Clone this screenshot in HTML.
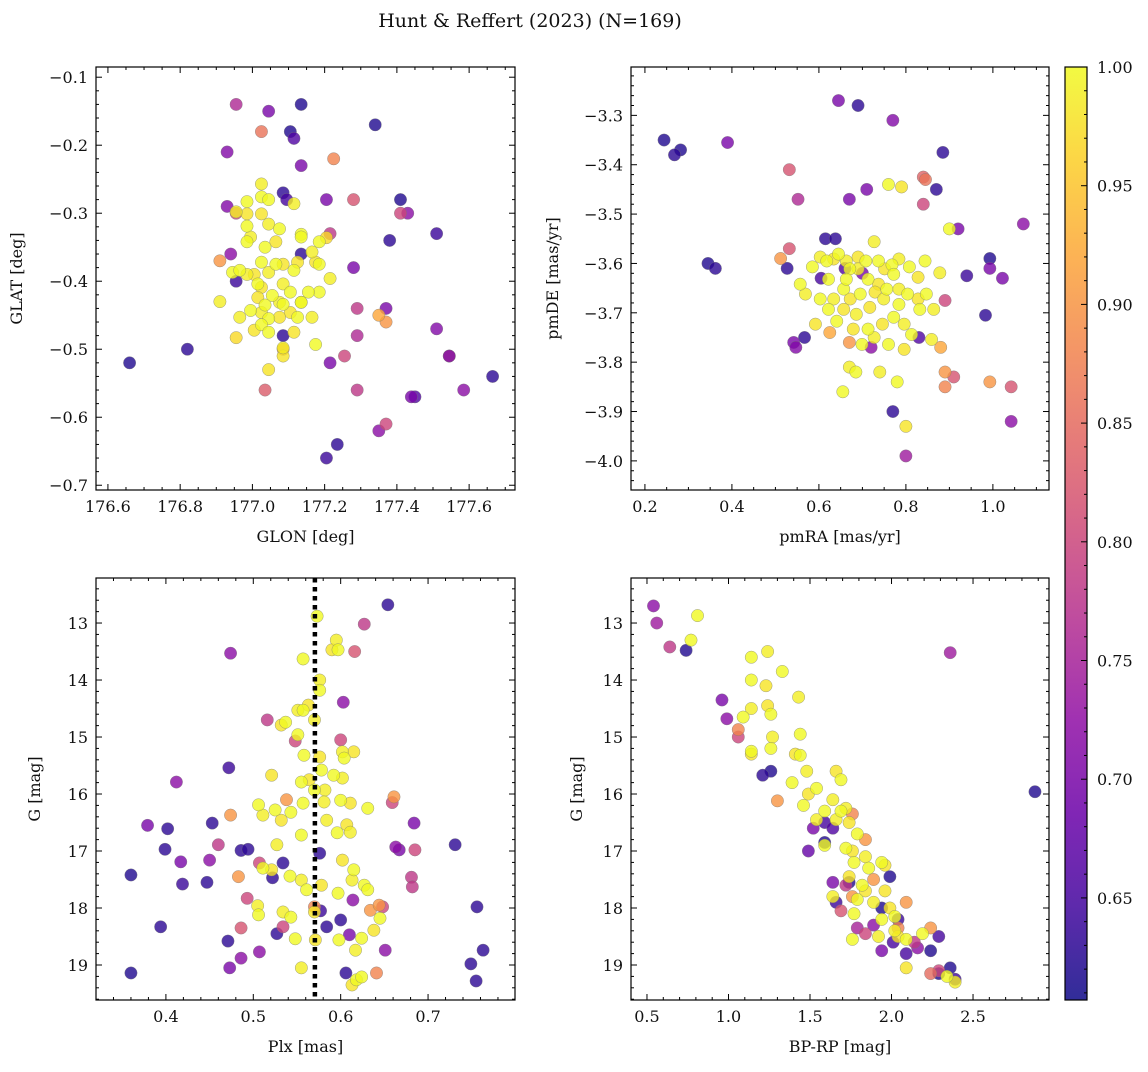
<!DOCTYPE html>
<html><head><meta charset="utf-8"><style>
html,body{margin:0;padding:0;background:#fff}
svg text{font-family:"DejaVu Serif","Liberation Serif",serif;fill:#111}
</style></head><body>
<svg id="fig" width="1148" height="1067" viewBox="0 0 1148 1067" xmlns="http://www.w3.org/2000/svg">
<text x="530" y="27" font-size="19" text-anchor="middle">Hunt &amp; Reffert (2023) (N=169)</text>
</svg>
<script>
// ---- data: [x, y, membership probability] ----
const skyPos = [
[176.66,-0.52,0.62],[176.82,-0.50,0.63],[176.955,-0.14,0.76],[176.93,-0.21,0.71],[176.93,-0.29,0.71],[177.025,-0.18,0.86],[177.045,-0.15,0.70],[177.135,-0.14,0.62],[177.105,-0.18,0.62],[177.115,-0.19,0.66],[177.135,-0.23,0.70],[177.225,-0.22,0.88],[177.34,-0.17,0.62],[177.41,-0.28,0.62],[177.41,-0.30,0.80],[177.43,-0.30,0.72],[177.38,-0.34,0.63],[177.51,-0.33,0.64],[177.51,-0.47,0.71],[177.545,-0.51,0.63],[177.545,-0.51,0.74],[177.585,-0.56,0.72],[177.665,-0.54,0.63],[177.44,-0.57,0.70],[177.45,-0.57,0.66],[177.37,-0.61,0.80],[177.35,-0.62,0.72],[177.29,-0.56,0.78],[177.235,-0.64,0.63],[177.205,-0.66,0.64],[177.035,-0.56,0.83],[177.29,-0.48,0.76],[177.255,-0.51,0.80],[177.215,-0.52,0.70],[177.37,-0.46,0.90],[177.35,-0.45,0.92],[177.37,-0.44,0.70],[177.29,-0.44,0.78],[177.28,-0.38,0.70],[177.28,-0.28,0.82],[177.205,-0.28,0.70],[177.215,-0.33,0.78],[176.955,-0.30,0.80],[176.94,-0.36,0.72],[176.91,-0.37,0.90],[176.955,-0.40,0.64],[176.91,-0.43,0.99],[177.045,-0.53,0.98],[177.085,-0.51,0.98],[177.085,-0.50,0.90],[177.085,-0.48,0.63],[177.135,-0.36,0.63],[177.085,-0.27,0.63],[177.095,-0.28,0.65],
[176.945,-0.387,1.0],[176.955,-0.298,0.99],[176.985,-0.283,1.0],[176.985,-0.301,0.98],[176.985,-0.319,1.0],[176.995,-0.335,0.99],[176.985,-0.342,1.0],[177.025,-0.257,0.99],[177.025,-0.276,1.0],[177.025,-0.301,0.98],[177.045,-0.280,1.0],[177.045,-0.316,0.99],[177.035,-0.350,1.0],[177.065,-0.342,0.98],[177.075,-0.323,1.0],[177.115,-0.286,0.99],[177.135,-0.331,1.0],[177.125,-0.372,0.98],[177.135,-0.335,1.0],[177.165,-0.357,0.99],[177.185,-0.342,1.0],[177.205,-0.336,0.97],[177.185,-0.375,1.0],[177.215,-0.396,0.99],[177.185,-0.416,1.0],[177.175,-0.372,0.98],[177.155,-0.416,1.0],[177.135,-0.431,0.99],[177.105,-0.416,1.0],[177.105,-0.446,0.98],[177.085,-0.434,1.0],[177.075,-0.431,0.99],[177.055,-0.421,1.0],[177.025,-0.409,0.98],[177.015,-0.404,1.0],[176.985,-0.390,0.99],[176.965,-0.384,1.0],[177.005,-0.390,0.98],[177.025,-0.372,1.0],[177.045,-0.387,0.99],[177.065,-0.375,1.0],[177.085,-0.375,0.98],[177.115,-0.384,1.0],[177.085,-0.404,0.99],[177.035,-0.435,1.0],[177.015,-0.424,0.98],[176.995,-0.443,1.0],[177.025,-0.446,0.99],[177.045,-0.455,1.0],[177.075,-0.453,0.98],[177.125,-0.453,1.0],[177.165,-0.453,0.99],[177.025,-0.464,1.0],[177.005,-0.472,0.98],[177.045,-0.475,1.0],[177.085,-0.498,0.99],[177.175,-0.493,1.0],[177.115,-0.475,0.98],[177.135,-0.431,1.0],[176.965,-0.453,0.99],[176.955,-0.483,0.97]
];
const pmPos = [
[0.244,-3.35,0.62],[0.268,-3.38,0.63],[0.282,-3.37,0.62],[0.39,-3.355,0.70],[0.645,-3.27,0.70],[0.69,-3.28,0.63],[0.77,-3.31,0.71],[0.885,-3.375,0.63],[0.532,-3.41,0.82],[0.552,-3.47,0.76],[0.67,-3.47,0.70],[0.71,-3.45,0.70],[0.76,-3.44,1.0],[0.79,-3.445,0.98],[0.87,-3.45,0.63],[0.84,-3.425,0.84],[0.845,-3.43,0.86],[0.84,-3.48,0.80],[0.345,-3.60,0.62],[0.362,-3.61,0.63],[0.527,-3.61,0.63],[0.532,-3.57,0.82],[0.512,-3.59,0.90],[0.615,-3.55,0.63],[0.638,-3.55,0.63],[0.90,-3.53,1.0],[0.92,-3.53,0.70],[0.993,-3.59,0.62],[0.993,-3.61,0.70],[1.07,-3.52,0.72],[1.022,-3.63,0.70],[0.89,-3.675,0.80],[0.983,-3.705,0.63],[0.94,-3.625,0.64],[0.542,-3.76,0.70],[0.547,-3.77,0.71],[0.567,-3.75,0.63],[0.993,-3.84,0.90],[1.042,-3.85,0.82],[1.042,-3.92,0.72],[0.89,-3.85,0.88],[0.91,-3.83,0.82],[0.89,-3.82,0.90],[0.88,-3.77,0.92],[0.77,-3.90,0.63],[0.80,-3.99,0.74],[0.80,-3.93,0.98],[0.655,-3.86,1.0],[0.67,-3.81,0.99],[0.685,-3.82,1.0],[0.74,-3.82,0.99],[0.78,-3.84,1.0],[0.67,-3.76,0.90],[0.625,-3.74,0.92],[0.72,-3.77,0.72],[0.70,-3.62,0.70],[0.66,-3.61,0.66],[0.83,-3.75,0.66],[0.605,-3.63,0.65],
[0.585,-3.607,1.0],[0.603,-3.587,0.99],[0.618,-3.595,1.0],[0.634,-3.591,0.98],[0.645,-3.581,1.0],[0.663,-3.595,0.99],[0.671,-3.611,1.0],[0.69,-3.587,0.98],[0.708,-3.595,1.0],[0.727,-3.556,0.99],[0.737,-3.595,1.0],[0.751,-3.611,0.98],[0.768,-3.603,1.0],[0.784,-3.591,0.99],[0.808,-3.607,1.0],[0.828,-3.628,0.98],[0.844,-3.595,1.0],[0.878,-3.619,0.99],[0.713,-3.632,1.0],[0.737,-3.642,0.98],[0.756,-3.652,1.0],[0.784,-3.652,0.99],[0.804,-3.662,1.0],[0.828,-3.672,0.98],[0.847,-3.662,1.0],[0.864,-3.693,0.99],[0.695,-3.662,1.0],[0.672,-3.672,0.98],[0.657,-3.652,1.0],[0.634,-3.672,0.99],[0.603,-3.672,1.0],[0.592,-3.723,0.98],[0.641,-3.717,1.0],[0.686,-3.703,0.99],[0.713,-3.733,1.0],[0.746,-3.723,0.98],[0.772,-3.709,1.0],[0.796,-3.723,0.99],[0.813,-3.744,1.0],[0.796,-3.774,0.98],[0.760,-3.764,1.0],[0.727,-3.750,0.99],[0.699,-3.764,1.0],[0.679,-3.733,0.98],[0.622,-3.632,1.0],[0.569,-3.662,0.99],[0.557,-3.642,1.0],[0.657,-3.693,0.98],[0.784,-3.683,1.0],[0.749,-3.672,0.99],[0.622,-3.693,1.0],[0.717,-3.689,0.98],[0.832,-3.693,1.0],[0.859,-3.754,0.99],[0.663,-3.632,1.0],[0.729,-3.658,0.98],[0.772,-3.622,1.0],[0.690,-3.611,0.99]
];
const plxPos = [
[0.36,17.42,0.62],[0.36,19.14,0.62],[0.394,18.33,0.63],[0.379,16.55,0.70],[0.402,16.61,0.63],[0.399,16.97,0.63],[0.412,15.79,0.72],[0.417,17.19,0.70],[0.419,17.58,0.64],[0.447,17.55,0.63],[0.453,16.51,0.63],[0.45,17.16,0.72],[0.46,16.89,0.78],[0.474,13.53,0.72],[0.472,15.54,0.64],[0.474,16.37,0.90],[0.471,18.58,0.63],[0.473,19.05,0.70],[0.483,17.45,0.90],[0.486,18.35,0.82],[0.486,18.88,0.72],[0.486,16.99,0.63],[0.494,16.97,0.63],[0.493,17.83,0.80],[0.507,18.77,0.72],[0.507,17.21,0.80],[0.516,14.70,0.78],[0.522,17.47,0.63],[0.527,18.45,0.63],[0.534,18.33,0.80],[0.534,17.21,0.63],[0.548,15.07,0.80],[0.576,17.04,0.63],[0.577,18.05,0.64],[0.584,18.33,0.63],[0.60,18.21,0.63],[0.606,19.14,0.63],[0.614,17.86,0.72],[0.61,18.47,0.70],[0.603,14.39,0.72],[0.627,13.02,0.78],[0.654,12.68,0.63],[0.663,16.93,0.72],[0.667,16.98,0.70],[0.634,18.04,0.90],[0.641,19.14,0.88],[0.651,18.74,0.72],[0.681,17.46,0.78],[0.684,16.51,0.70],[0.685,16.98,0.80],[0.682,17.63,0.78],[0.661,16.05,0.90],[0.659,16.15,0.80],[0.731,16.89,0.63],[0.749,18.98,0.63],[0.756,17.98,0.63],[0.763,18.74,0.63],[0.755,19.28,0.63],[0.644,17.95,0.90],[0.648,17.98,0.80],[0.570,17.98,0.88],[0.538,16.1,0.90],[0.616,13.5,0.82],[0.60,15.05,0.80],
[0.573,12.88,1.0],[0.595,13.30,0.99],[0.597,13.47,1.0],[0.590,13.47,0.98],[0.557,13.63,1.0],[0.576,14.0,0.99],[0.576,14.18,1.0],[0.563,14.44,0.98],[0.557,14.53,1.0],[0.551,14.53,0.99],[0.537,14.74,1.0],[0.532,14.79,0.98],[0.551,14.96,1.0],[0.570,14.70,0.99],[0.558,15.32,1.0],[0.576,15.35,0.98],[0.555,15.79,1.0],[0.602,15.26,0.99],[0.604,15.37,1.0],[0.615,15.26,0.98],[0.592,15.67,1.0],[0.602,15.72,0.99],[0.578,15.58,1.0],[0.564,15.75,0.98],[0.570,15.93,1.0],[0.582,15.93,0.99],[0.600,16.11,1.0],[0.611,16.16,0.98],[0.631,16.25,1.0],[0.581,16.14,0.99],[0.557,16.16,1.0],[0.521,15.67,0.98],[0.506,16.19,1.0],[0.511,16.37,0.99],[0.525,16.28,1.0],[0.532,16.46,0.98],[0.543,16.32,1.0],[0.527,16.89,0.99],[0.511,17.30,1.0],[0.521,17.33,0.98],[0.542,17.44,1.0],[0.555,17.51,0.99],[0.561,17.68,1.0],[0.578,17.60,0.98],[0.597,17.74,1.0],[0.613,17.51,0.99],[0.627,17.60,1.0],[0.570,18.07,0.98],[0.543,18.16,1.0],[0.534,18.07,0.99],[0.548,18.54,1.0],[0.571,18.56,0.98],[0.598,18.56,1.0],[0.617,18.74,0.99],[0.624,18.53,1.0],[0.638,18.39,0.98],[0.645,18.18,1.0],[0.505,17.96,0.99],[0.506,18.12,1.0],[0.602,17.16,0.98],[0.596,16.68,1.0],[0.584,16.46,0.99],[0.555,16.72,1.0],[0.607,16.54,0.98],[0.631,17.68,1.0],[0.555,19.05,0.99],[0.618,19.26,1.0],[0.613,19.35,0.98],[0.624,19.21,1.0],[0.611,16.67,0.99],[0.615,17.33,1.0]
];
const cmdPos = [
[0.54,12.70,0.72],[0.56,13.0,0.74],[0.64,13.42,0.78],[0.74,13.48,0.62],[0.77,13.3,1.0],[0.81,12.87,1.0],[0.96,14.35,0.70],[0.99,14.68,0.72],[1.06,14.87,0.88],[1.06,15.0,0.80],[2.36,13.52,0.74],[2.88,15.96,0.62],[1.21,15.67,0.63],[1.26,15.6,0.62],[1.30,16.12,0.90],[1.49,17.0,0.68],[1.52,16.6,0.70],[1.59,16.5,0.65],[1.64,17.55,0.70],[1.66,17.9,0.64],[1.69,18.05,0.82],[1.74,17.55,0.62],[1.79,18.35,0.75],[1.76,17.8,0.90],[1.84,18.45,0.80],[1.89,18.3,0.72],[1.94,18.75,0.70],[1.99,17.45,0.62],[2.01,18.6,0.65],[2.04,18.2,0.64],[2.04,18.35,0.88],[2.09,18.8,0.65],[2.14,18.6,0.78],[2.16,18.7,0.72],[2.24,18.35,0.90],[2.24,18.75,0.62],[2.29,19.15,0.62],[2.36,19.05,0.62],[2.39,19.25,0.64],[2.29,18.5,0.65],[1.84,16.8,0.90],[1.76,16.35,0.88],[1.89,17.5,0.90],[1.94,18.0,0.62],[2.09,17.9,0.90],[1.59,16.85,0.62],[2.29,19.1,0.80],[2.24,19.15,0.85],[1.64,16.6,0.66],[1.72,17.6,0.78],
[1.14,13.6,1.0],[1.24,13.5,0.99],[1.14,14.0,1.0],[1.23,14.1,0.98],[1.33,13.85,1.0],[1.14,14.5,0.99],[1.09,14.65,1.0],[1.24,14.45,0.98],[1.26,14.6,1.0],[1.27,15.0,0.99],[1.14,15.25,1.0],[1.14,15.3,0.98],[1.26,15.2,1.0],[1.43,14.3,0.99],[1.44,14.95,1.0],[1.41,15.3,0.98],[1.44,15.32,1.0],[1.48,15.6,0.99],[1.54,15.9,1.0],[1.49,16.0,0.98],[1.46,16.2,1.0],[1.54,16.45,0.99],[1.59,16.3,1.0],[1.66,15.6,0.98],[1.69,15.75,1.0],[1.64,16.1,0.99],[1.69,16.3,1.0],[1.74,16.5,0.98],[1.79,16.7,1.0],[1.66,16.45,0.99],[1.72,16.95,1.0],[1.76,17.0,0.98],[1.77,17.2,1.0],[1.84,17.1,0.99],[1.86,17.3,1.0],[1.74,17.45,0.98],[1.82,17.6,1.0],[1.64,17.8,0.99],[1.94,17.2,1.0],[1.96,17.25,0.98],[1.79,17.85,1.0],[1.89,17.9,0.99],[1.77,18.1,1.0],[1.99,18.0,0.98],[1.94,18.2,1.0],[1.92,18.5,0.99],[1.76,18.55,1.0],[2.04,18.5,0.98],[2.09,18.55,1.0],[2.02,18.4,0.99],[2.19,18.45,1.0],[2.09,19.05,0.98],[2.34,19.2,1.0],[2.39,19.3,0.99],[2.02,18.15,1.0],[1.96,17.7,0.98],[1.59,16.9,1.0],[1.72,16.25,0.99],[1.39,15.8,1.0],[1.84,17.7,0.98]
];
const colorTicks = ["0.65","0.70","0.75","0.80","0.85","0.90","0.95","1.00"];
const plxCut = [0.5705];

const PMIN = 0.607, PMAX = 1.0;
const stops = ["#0d0887","#41049d","#6a00a8","#8f0da4","#b12a90","#cc4778","#e16462","#f2844b","#fca636","#fcce25","#f0f921"];
function hex(h){return [1,3,5].map(i=>parseInt(h.substr(i,2),16));}
function plasma(t){t=Math.max(0,Math.min(1,t));const f=t*10,i=Math.min(9,Math.floor(f)),r=f-i;const a=hex(stops[i]),b=hex(stops[i+1]);return "rgb("+a.map((v,k)=>Math.round(v+(b[k]-v)*r)).join(",")+")";}
const svg = document.getElementById('fig');
const NS = "http://www.w3.org/2000/svg";
function mk(tag, attrs, parent){const e=document.createElementNS(NS,tag);for(const k in attrs)e.setAttribute(k,attrs[k]);(parent||svg).appendChild(e);return e;}
function fmt(v,d){const s=Math.abs(v).toFixed(d);return (v< -1e-9?"\u2212":"")+s;}

function panel(o){
  const g = mk('g',{});
  
  
  const sx = v => o.L + (v-o.x0)/(o.x1-o.x0)*(o.R-o.L);
  const sy = v => o.yInv ? o.T + (v-o.y0)/(o.y1-o.y0)*(o.B-o.T) : o.B - (v-o.y0)/(o.y1-o.y0)*(o.B-o.T);
  const pts = o.data.slice().sort((a,b)=>a[2]-b[2]);
  for(const p of pts){
    const c = mk('circle',{cx:sx(p[0]),cy:sy(p[1]),r:6.2,fill:plasma((p[2]-PMIN)/(PMAX-PMIN)),'fill-opacity':0.8,stroke:'#777','stroke-width':0.5,'stroke-opacity':0.7},g);
    
    
  }
  if(o.vline){for(const v of o.vline){const l=mk('line',{x1:sx(v),x2:sx(v),y1:o.T,y2:o.B,stroke:'#000','stroke-width':4.5,'stroke-dasharray':'4.5,4.5'},g);
    
    }}
  const fr = mk('rect',{x:o.L,y:o.T,width:o.R-o.L,height:o.B-o.T,fill:'none',stroke:'#000','stroke-width':1.2},g);
  
  
  const eps=1e-9;
  const xs=Math.ceil(o.x0/o.xmin-eps), xe=Math.floor(o.x1/o.xmin+eps);
  for(let k=xs; k<=xe; k++){
    const v=k*o.xmin;
    const X=sx(v);const maj=Math.abs(v/o.xmaj-Math.round(v/o.xmaj))<1e-6;const len=maj?6:3;
    mk('line',{x1:X,x2:X,y1:o.B,y2:o.B-len,stroke:'#000','stroke-width':1},g);
    mk('line',{x1:X,x2:X,y1:o.T,y2:o.T+len,stroke:'#000','stroke-width':1},g);
    if(maj){const t=mk('text',{x:X,y:o.B+22,'font-size':16,'text-anchor':'middle'},g);t.textContent=fmt(v,o.xd);
      
      }
  }
  const ylo=Math.min(o.y0,o.y1), yhi=Math.max(o.y0,o.y1);
  const ys=Math.ceil(ylo/o.ymin-eps), ye=Math.floor(yhi/o.ymin+eps);
  for(let k=ys; k<=ye; k++){
    const v=k*o.ymin;
    const Y=sy(v);const maj=Math.abs(v/o.ymaj-Math.round(v/o.ymaj))<1e-6;const len=maj?6:3;
    mk('line',{x1:o.L,x2:o.L+len,y1:Y,y2:Y,stroke:'#000','stroke-width':1},g);
    mk('line',{x1:o.R,x2:o.R-len,y1:Y,y2:Y,stroke:'#000','stroke-width':1},g);
    if(maj){const t=mk('text',{x:o.L-8,y:Y+6,'font-size':16,'text-anchor':'end'},g);t.textContent=fmt(v,o.yd);
      
      }
  }
  const xl=mk('text',{x:(o.L+o.R)/2,y:o.B+52,'font-size':16,'text-anchor':'middle'},g);xl.textContent=o.xlabel;
  
  
  const yx=o.ylx, yy=(o.T+o.B)/2;
  const yl=mk('text',{x:yx,y:yy,'font-size':16,'text-anchor':'middle',transform:`rotate(-90 ${yx} ${yy})`},g);yl.textContent=o.ylabel;
  
  
}

panel({name:'sky-position-panel',data:skyPos,L:96,R:515,T:67,B:490,x0:176.567,x1:177.727,y0:-0.707,y1:-0.085,xmaj:0.2,xmin:0.05,ymaj:0.1,ymin:0.02,xd:1,yd:1,xlabel:'GLON [deg]',ylabel:'GLAT [deg]',ylx:22});
panel({name:'proper-motion-panel',data:pmPos,L:631,R:1049,T:67,B:490,x0:0.168,x1:1.129,y0:-4.059,y1:-3.202,xmaj:0.2,xmin:0.05,ymaj:0.1,ymin:0.02,xd:1,yd:1,xlabel:'pmRA [mas/yr]',ylabel:'pmDE [mas/yr]',ylx:558});
panel({name:'parallax-magnitude-panel',data:plxPos,L:96,R:515,T:578,B:1000,x0:0.320,x1:0.7995,y0:12.21,y1:19.614,yInv:true,xmaj:0.1,xmin:0.02,ymaj:1,ymin:0.2,xd:1,yd:0,xlabel:'Plx [mas]',ylabel:'G [mag]',ylx:40,vline:plxCut});
panel({name:'color-magnitude-panel',data:cmdPos,L:631,R:1049,T:578,B:1000,x0:0.402,x1:2.966,y0:12.21,y1:19.614,yInv:true,xmaj:0.5,xmin:0.1,ymaj:1,ymin:0.2,xd:1,yd:0,xlabel:'BP-RP [mag]',ylabel:'G [mag]',ylx:582});

// colorbar
const cb = mk('g',{});


const defs = mk('defs',{},cb);
const lg = mk('linearGradient',{id:'cbg',x1:0,y1:1,x2:0,y2:0},defs);
for(let i=0;i<=20;i++){mk('stop',{offset:i/20,'stop-color':plasma(i/20),'stop-opacity':0.85},lg);}
const CT=67,CB=1000,CL=1065,CR=1087;
mk('rect',{x:CL,y:CT,width:CR-CL,height:CB-CT,fill:'url(#cbg)',stroke:'#000','stroke-width':1.2},cb);
const cy = v => CB - (v-PMIN)/(PMAX-PMIN)*(CB-CT);
for(let k=61;k<=100;k++){const v=k/100;const Y=cy(v);const maj=k%5===0;
  mk('line',{x1:CR,x2:CR-(maj?6:3),y1:Y,y2:Y,stroke:'#000','stroke-width':1},cb);}
for(const s of colorTicks){const Y=cy(parseFloat(s));const t=mk('text',{x:CR+10,y:Y+6,'font-size':16},cb);t.textContent=s;
  
  }
</script>
</body></html>
